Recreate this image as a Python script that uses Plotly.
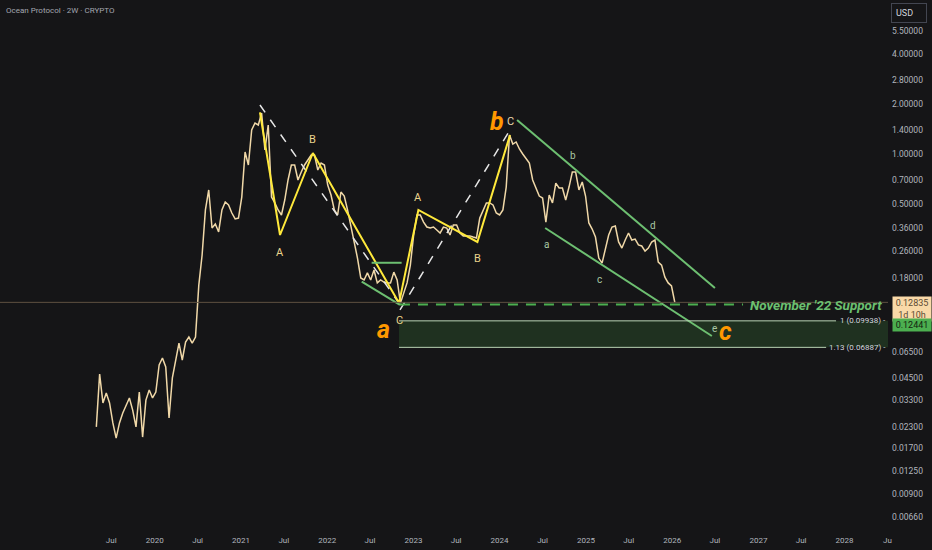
import math

import pandas as pd
import plotly.graph_objects as go

# Ocean Protocol 2W closes (USD)
start = "2019-04-29"
close = [
    0.0229, 0.0476, 0.0319, 0.0366, 0.0319, 0.0242, 0.0196, 0.0242, 0.0278, 0.0310,
    0.0342, 0.0289, 0.0229, 0.0371, 0.0199, 0.0332, 0.0382, 0.0342, 0.0371, 0.0540,
    0.0594, 0.0525, 0.0259, 0.0451, 0.0562, 0.0731, 0.0578, 0.0741, 0.0794, 0.0731,
    0.0794, 0.163, 0.247, 0.461, 0.608, 0.359, 0.380, 0.340, 0.461, 0.515,
    0.494, 0.442, 0.407, 0.412, 0.551, 1.028, 0.859, 1.394, 1.536, 1.494,
    1.764, 1.057, 1.494, 0.551, 0.508, 0.461, 0.430, 0.529, 0.698, 0.859,
    0.859, 0.698, 0.779, 0.859, 0.920, 0.986, 0.986, 0.801, 0.883, 0.859,
    0.651, 0.567, 0.461, 0.430, 0.591, 0.559, 0.461, 0.374, 0.292, 0.237,
    0.180, 0.175, 0.193, 0.175, 0.201, 0.168, 0.175, 0.170, 0.168, 0.168,
    0.195, 0.175, 0.127, 0.146, 0.168, 0.215, 0.326, 0.430, 0.430, 0.390,
    0.364, 0.359, 0.364, 0.349, 0.335, 0.364, 0.359, 0.326, 0.374, 0.374,
    0.335, 0.322, 0.322, 0.322, 0.317, 0.313, 0.412, 0.461, 0.508, 0.508,
    0.494, 0.442, 0.430, 0.461, 0.633, 1.30, 1.148, 1.181, 1.072, 1.000,
    0.933, 0.883, 0.698, 0.625, 0.559, 0.544, 0.390, 0.567, 0.508, 0.669,
    0.625, 0.625, 0.529, 0.633, 0.779, 0.779, 0.608, 0.679, 0.559, 0.385,
    0.354, 0.317, 0.237, 0.221, 0.272, 0.326, 0.364, 0.369, 0.296, 0.272,
    0.304, 0.335, 0.304, 0.308, 0.284, 0.280, 0.261, 0.272, 0.296, 0.304,
    0.224, 0.215, 0.182, 0.168, 0.161, 0.12835,
]
dates = pd.date_range(start, periods=len(close), freq="14D")

# elliott wave drawing (yellow)
wave_dates = ["2021-03-22", "2021-06-15", "2021-11-01", "2022-11-01",
              "2023-01-22", "2023-09-29", "2024-02-14"]
wave_px = [1.78, 0.326, 1.014, 0.127, 0.461, 0.296, 1.30]

# dashed white legs
leg1_dates = ["2021-03-22", "2022-11-01"]
leg1_px = [1.97, 0.127]
leg2_dates = ["2022-11-05", "2024-02-06"]
leg2_px = [0.1155, 1.337]

# green triangle at the 2022 low
tri_top_dates = ["2022-07-08", "2022-11-12"]
tri_top_px = [0.222, 0.222]
tri_bot_dates = ["2022-05-27", "2022-11-05"]
tri_bot_px = [0.1708, 0.1238]

# descending channel
ch_top_dates = ["2024-03-15", "2026-07-01"]
ch_top_px = [1.60, 0.1565]
ch_bot_dates = ["2024-07-12", "2026-06-18"]
ch_bot_px = [0.359, 0.0806]

support = 0.12441
last_price = 0.12835
fib_1 = 0.09938
fib_113 = 0.06887

x_start, x_end = "2018-03-17", "2028-07-03"
y_lo, y_hi = 0.005499, 8.425

y_ticks = [5.5, 4.0, 2.8, 2.0, 1.4, 1.0, 0.7, 0.5, 0.36, 0.26, 0.18,
           0.065, 0.045, 0.033, 0.023, 0.017, 0.0125, 0.009, 0.0066]
x_ticks = ["2019-07-01", "2020-01-01", "2020-07-01", "2021-01-01", "2021-07-01",
           "2022-01-01", "2022-07-01", "2023-01-01", "2023-07-01", "2024-01-01",
           "2024-07-01", "2025-01-01", "2025-07-01", "2026-01-01", "2026-07-01",
           "2027-01-01", "2027-07-01", "2028-01-01", "2028-07-01"]
x_labels = ["Jul", "2020", "Jul", "2021", "Jul", "2022", "Jul", "2023", "Jul", "2024",
            "Jul", "2025", "Jul", "2026", "Jul", "2027", "Jul", "2028", "Ju"]

BG = "#151517"
FONT = "Roboto"

fig = go.Figure()


def line(x, y, color, width=2, dash="solid"):
    fig.add_trace(go.Scatter(x=x, y=y, mode="lines", hoverinfo="skip", showlegend=False,
                             line=dict(color=color, width=width, dash=dash)))


# fib target zone
fig.add_shape(type="rect", x0="2022-11-01", x1=x_end, y0=fib_113, y1=fib_1,
              fillcolor="rgba(76,175,80,0.18)", line_width=0, layer="below")
fig.add_shape(type="line", x0="2022-11-01", x1="2027-11-26", y0=fib_1, y1=fib_1,
              line=dict(color="#b9d3b4", width=1))
fig.add_shape(type="line", x0="2022-11-01", x1="2027-10-15", y0=fib_113, y1=fib_113,
              line=dict(color="#b9d3b4", width=1))

# last price line
fig.add_shape(type="line", xref="paper", x0=0, x1=1, y0=last_price, y1=last_price,
              line=dict(color="#5e5040", width=1))

# support line
fig.add_shape(type="line", x0="2022-11-05", x1="2026-10-28", y0=support, y1=support,
              line=dict(color="#4caf50", width=2, dash="10px,8px"))

line(dates, close, "#f0d8a8", 1.5)
line(leg1_dates, leg1_px, "#e6e6e6", 1.5, "dash")
line(leg2_dates, leg2_px, "#e6e6e6", 1.5, "dash")
line(wave_dates, wave_px, "#ffe93b", 2)
line(tri_top_dates, tri_top_px, "#6dbf71", 2)
line(tri_bot_dates, tri_bot_px, "#6dbf71", 2)
line(ch_top_dates, ch_top_px, "#6dbf71", 2)
line(ch_bot_dates, ch_bot_px, "#6dbf71", 2)

annots = []


def label(x, y, text, color, size=11, bold=False):
    if bold:
        text = "<b><i>" + text + "</i></b>"
    # annotations on a log axis take log10 positions
    annots.append(dict(x=x, y=math.log10(y), text=text, showarrow=False,
                       xanchor="center", yanchor="middle",
                       font=dict(family=FONT, size=size, color=color)))


# wave degree letters
label("2022-08-29", 0.0876, "a", "#ff9800", 25, True)
label("2023-12-21", 1.579, "b", "#ff9800", 25, True)
label("2026-08-13", 0.0863, "c", "#ff9800", 25, True)
# sub waves
label("2021-06-15", 0.2576, "A", "#ead48c")
label("2021-11-01", 1.214, "B", "#ead48c")
label("2022-11-01", 0.1005, "C", "#ead48c")
label("2023-01-22", 0.551, "A", "#ead48c")
label("2023-09-29", 0.237, "B", "#ead48c")
label("2024-02-18", 1.579, "C", "#ead8b0")
label("2024-07-19", 0.284, "a", "#a9c7a3", 10)
label("2024-11-06", 0.986, "b", "#a9c7a3", 10)
label("2025-03-01", 0.175, "c", "#a9c7a3", 10)
label("2025-10-11", 0.374, "d", "#a9c7a3", 10)
label("2026-07-01", 0.0888, "e", "#a9c7a3", 10)

annots += [
    dict(xref="paper", x=1, xanchor="right", xshift=-4, y=math.log10(support), yanchor="middle",
         text="<b><i>November '22 Support</i></b>", showarrow=False,
         font=dict(family=FONT, size=13.5, color="#6cc070")),
    dict(xref="paper", x=1, xanchor="right", y=math.log10(fib_1), yanchor="middle",
         text="1 (0.09938) -", showarrow=False, font=dict(family=FONT, size=8, color="#d1d4dc")),
    dict(xref="paper", x=1, xanchor="right", y=math.log10(fib_113), yanchor="middle",
         text="1.13 (0.06887) -", showarrow=False, font=dict(family=FONT, size=8, color="#d1d4dc")),
    # price scale labels
    dict(xref="paper", yref="paper", x=1, xshift=4, xanchor="left", y=1 - 296 / 530, yanchor="top",
         text="0.12835<br>1d 10h", showarrow=False, bgcolor="#f9d9a8", width=36, borderpad=1,
         font=dict(family=FONT, size=9, color="#5c4b33")),
    dict(xref="paper", yref="paper", x=1, xshift=4, xanchor="left", y=1 - 318 / 530, yanchor="top",
         text="0.12441", showarrow=False, bgcolor="#4caf50", width=36, borderpad=1,
         font=dict(family=FONT, size=9, color="#13230f")),
    dict(xref="paper", yref="paper", x=1, xshift=3, xanchor="left", y=1 - 3 / 530, yanchor="top",
         text="USD", showarrow=False, bordercolor="#434651", borderwidth=1, width=26, borderpad=4,
         align="left", font=dict(family=FONT, size=9, color="#d1d4dc")),
    dict(xref="paper", yref="paper", x=0, xshift=4, xanchor="left", y=1 - 4 / 530, yanchor="top",
         text="Ocean Protocol · 2W · CRYPTO", showarrow=False,
         font=dict(family=FONT, size=8, color="#a3a6af")),
]

fig.update_layout(
    width=932, height=550,
    margin=dict(l=0, r=44, t=0, b=20),
    paper_bgcolor=BG, plot_bgcolor=BG,
    annotations=annots,
    font=dict(family=FONT, color="#b2b5be", size=8),
    xaxis=dict(type="date", range=[x_start, x_end], showgrid=False, zeroline=False,
               tickvals=x_ticks, ticktext=x_labels, ticks="", ticklabelstandoff=4,
               tickfont=dict(size=8, color="#b2b5be")),
    yaxis=dict(type="log", range=[math.log10(y_lo), math.log10(y_hi)],
               side="right", showgrid=False, zeroline=False,
               tickvals=y_ticks, ticktext=[f"{v:.5f}" for v in y_ticks], ticks="",
               ticklabelstandoff=3, tickfont=dict(size=8.5, color="#b2b5be")),
)

# drop the default page margin so the chart fills the window
fig.write_html("out.html", config=dict(displayModeBar=False),
               post_script="document.body.style.margin='0';document.body.style.background='%s';" % BG)
